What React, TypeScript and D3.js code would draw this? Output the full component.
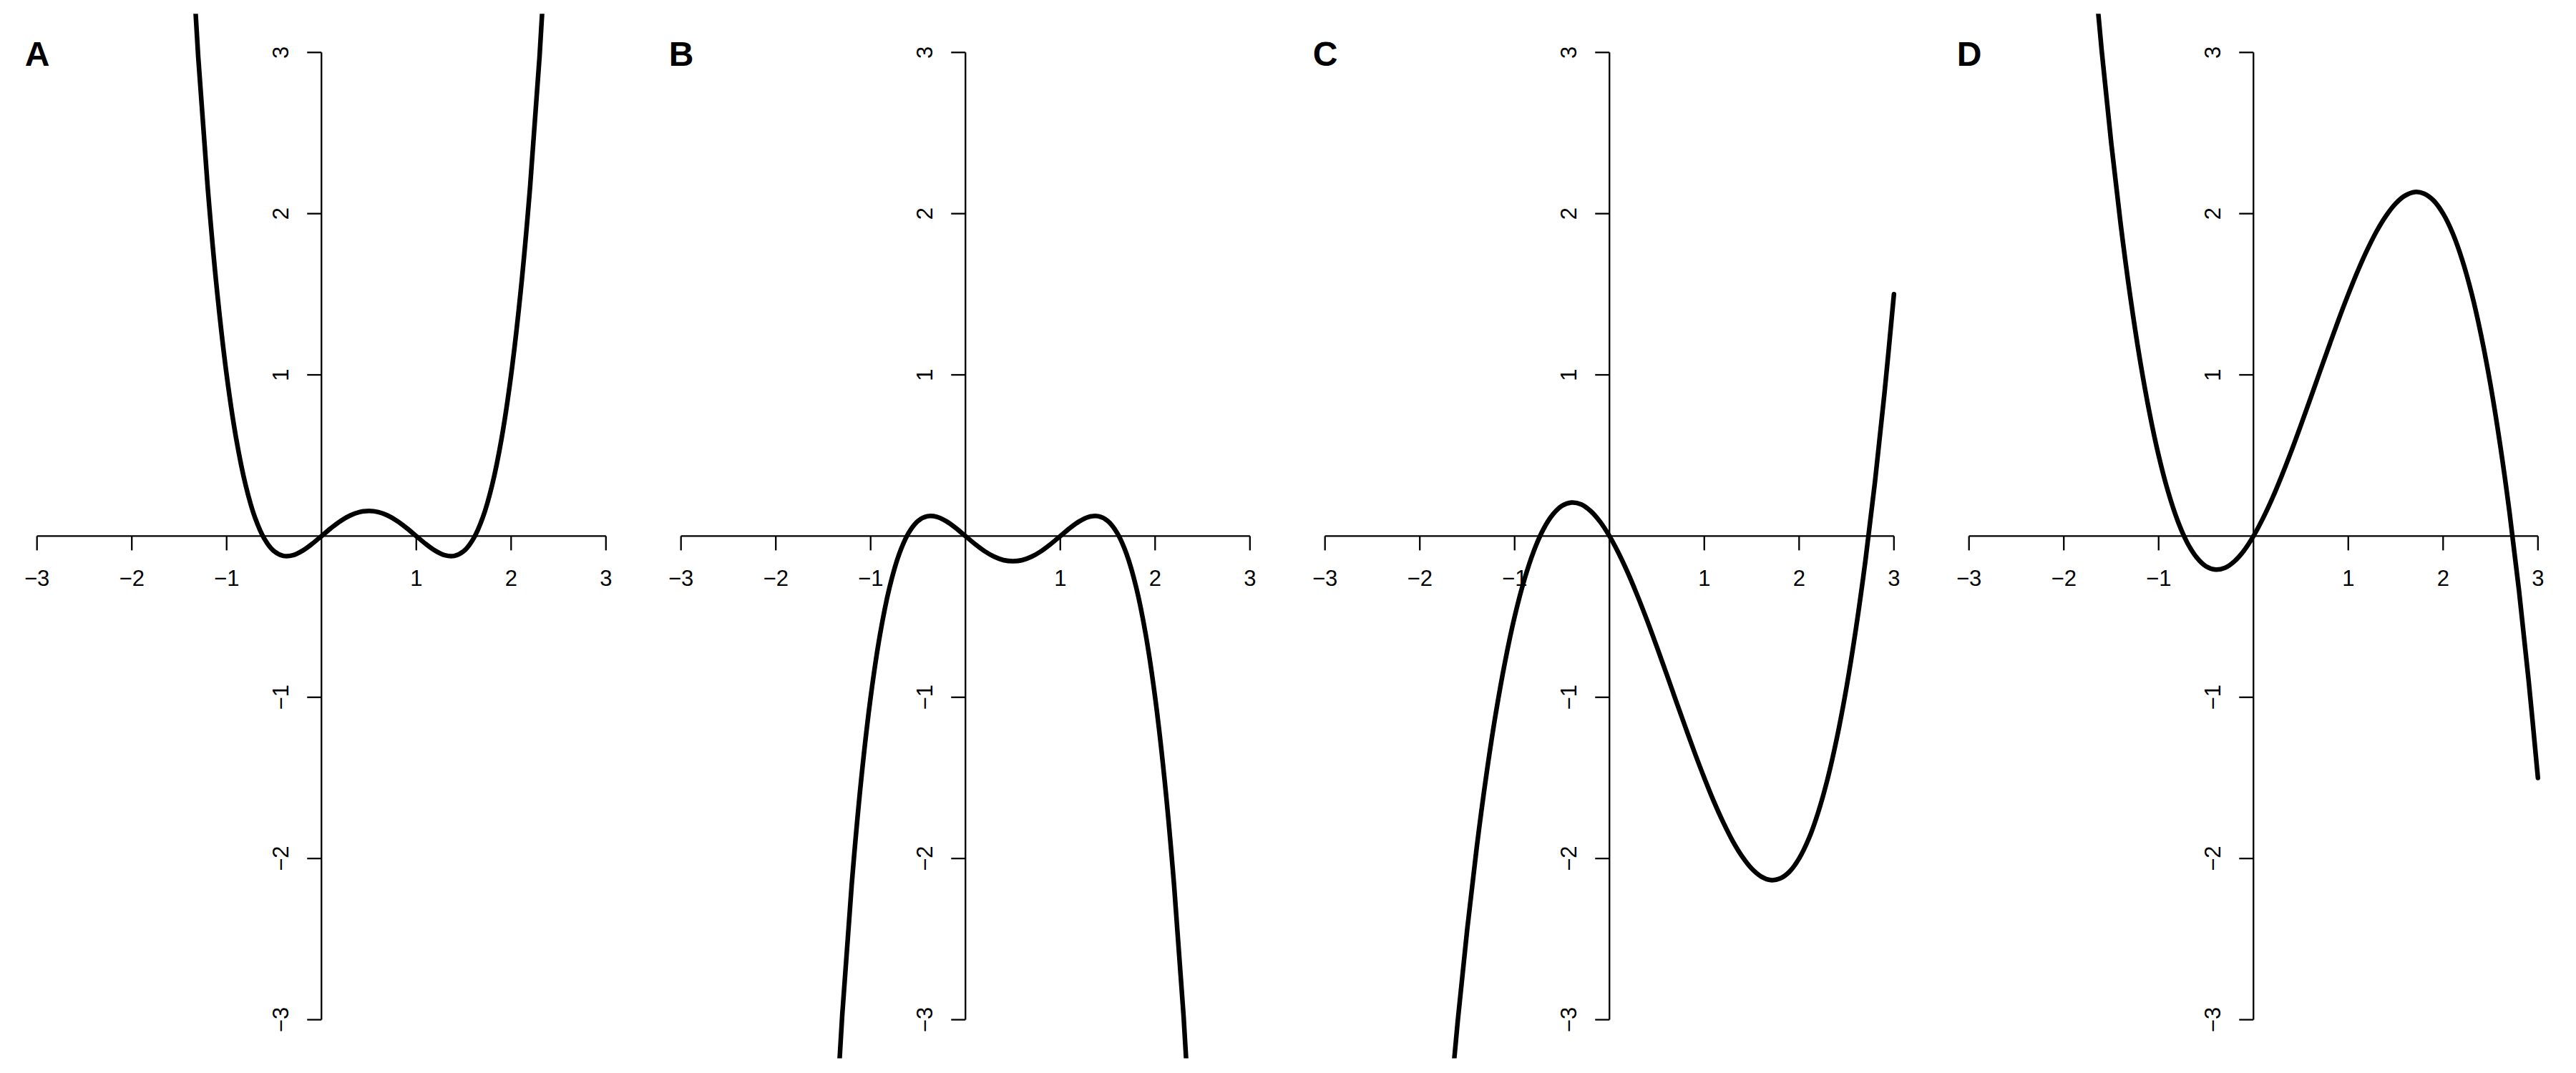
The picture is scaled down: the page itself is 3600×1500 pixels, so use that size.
import React from "react";
import * as d3 from "d3";

// ---------- data ----------
const panelLabels = ["A", "B", "C", "D"];
const xTicks = [-3, -2, -1, 1, 2, 3];
const yTicks = [-3, -2, -1, 1, 2, 3];

const xGridAB = [
  -1.5, -1.4, -1.3, -1.2, -1.1, -1.0, -0.9, -0.8, -0.7, -0.6, -0.5, -0.4, -0.3, -0.2, -0.1,
  0.0, 0.1, 0.2, 0.3, 0.4, 0.5, 0.6, 0.7, 0.8, 0.9, 1.0, 1.1, 1.2, 1.3, 1.4, 1.5, 1.6, 1.7,
  1.8, 1.9, 2.0, 2.1, 2.2, 2.3, 2.4, 2.5,
];
const valuesA = [
  5.156, 3.965, 2.975, 2.165, 1.513, 1.0, 0.607, 0.317, 0.113, -0.019, -0.094, -0.123, -0.119,
  -0.091, -0.049, 0, 0.049, 0.093, 0.127, 0.149, 0.156, 0.149, 0.127, 0.093, 0.049, 0, -0.049,
  -0.091, -0.119, -0.123, -0.094, -0.019, 0.113, 0.317, 0.607, 1.0, 1.513, 2.165, 2.975, 3.965,
  5.156,
];
const valuesB = [
  -5.156, -3.965, -2.975, -2.165, -1.513, -1.0, -0.607, -0.317, -0.113, 0.019, 0.094, 0.123,
  0.119, 0.091, 0.049, 0, -0.049, -0.093, -0.127, -0.149, -0.156, -0.149, -0.127, -0.093, -0.049,
  0, 0.049, 0.091, 0.119, 0.123, 0.094, 0.019, -0.113, -0.317, -0.607, -1.0, -1.513, -2.165,
  -2.975, -3.965, -5.156,
];

const xGridCD = [
  -1.8, -1.7, -1.6, -1.5, -1.4, -1.3, -1.2, -1.1, -1.0, -0.9, -0.8, -0.7, -0.6, -0.5, -0.4, -0.3,
  -0.2, -0.1, 0.0, 0.1, 0.2, 0.3, 0.4, 0.5, 0.6, 0.7, 0.8, 0.9, 1.0, 1.1, 1.2, 1.3, 1.4, 1.5, 1.6,
  1.7, 1.8, 1.9, 2.0, 2.1, 2.2, 2.3, 2.4, 2.5, 2.6, 2.7, 2.8, 2.9, 3.0,
];
const valuesD = [
  4.356, 3.647, 3.008, 2.438, 1.932, 1.489, 1.104, 0.776, 0.5, 0.275, 0.096, -0.039, -0.132,
  -0.188, -0.208, -0.197, -0.156, -0.09, 0, 0.11, 0.236, 0.377, 0.528, 0.688, 0.852, 1.019, 1.184,
  1.346, 1.5, 1.645, 1.776, 1.892, 1.988, 2.063, 2.112, 2.134, 2.124, 2.081, 2.0, 1.88, 1.716,
  1.507, 1.248, 0.938, 0.572, 0.149, -0.336, -0.885, -1.5,
];
const valuesC = [
  -4.356, -3.647, -3.008, -2.438, -1.932, -1.489, -1.104, -0.776, -0.5, -0.275, -0.096, 0.039,
  0.132, 0.188, 0.208, 0.197, 0.156, 0.09, 0, -0.11, -0.236, -0.377, -0.528, -0.688, -0.852,
  -1.019, -1.184, -1.346, -1.5, -1.645, -1.776, -1.892, -1.988, -2.063, -2.112, -2.134, -2.124,
  -2.081, -2.0, -1.88, -1.716, -1.507, -1.248, -0.938, -0.572, -0.149, 0.336, 0.885, 1.5,
];

const panelSeries = [
  { xs: xGridAB, ys: valuesA },
  { xs: xGridAB, ys: valuesB },
  { xs: xGridCD, ys: valuesC },
  { xs: xGridCD, ys: valuesD },
];

// ---------- layout ----------
const W = 3600;
const H = 1500;
const PANEL_W = 900;
const FONT = "'Liberation Sans', Arial, Helvetica, sans-serif";

function fmt(v: number) {
  return v < 0 ? "\u2212" + Math.abs(v) : String(v);
}

function Panel({ i }: { i: number }) {
  const x0 = i * PANEL_W;
  const xs = d3.scaleLinear().domain([-3, 3]).range([x0 + 51.7, x0 + 846.8]);
  const ys = d3.scaleLinear().domain([-3, 3]).range([1425.5, 73.3]);
  const { xs: xv, ys: yv } = panelSeries[i];
  const pts: [number, number][] = xv.map((x, k) => [x, yv[k]]);
  const line = d3
    .line<[number, number]>()
    .x((d) => xs(d[0]))
    .y((d) => ys(d[1]))
    .curve(d3.curveCatmullRom.alpha(0.5));
  const clipId = `clip-${i}`;
  const ox = xs(0);
  const oy = ys(0);
  const tick = 20;
  return (
    <g>
      <defs>
        <clipPath id={clipId}>
          <rect
            x={xs(-3.24)}
            y={ys(3.24)}
            width={xs(3.24) - xs(-3.24)}
            height={ys(-3.24) - ys(3.24)}
          />
        </clipPath>
      </defs>
      {/* x axis */}
      <line x1={xs(-3)} x2={xs(3)} y1={oy} y2={oy} stroke="#000" strokeWidth={2.3} />
      {xTicks.map((t) => (
        <g key={"xt" + t}>
          <line x1={xs(t)} x2={xs(t)} y1={oy} y2={oy + tick} stroke="#000" strokeWidth={2.3} />
          <text
            x={xs(t)}
            y={oy + 70}
            textAnchor="middle"
            fontFamily={FONT}
            fontSize={31}
            fill="#000"
          >
            {fmt(t)}
          </text>
        </g>
      ))}
      {/* y axis */}
      <line x1={ox} x2={ox} y1={ys(-3)} y2={ys(3)} stroke="#000" strokeWidth={2.3} />
      {yTicks.map((t) => (
        <g key={"yt" + t}>
          <line x1={ox - tick} x2={ox} y1={ys(t)} y2={ys(t)} stroke="#000" strokeWidth={2.3} />
          <text
            transform={`translate(${ox - 46.5},${ys(t)}) rotate(-90)`}
            textAnchor="middle"
            fontFamily={FONT}
            fontSize={31}
            fill="#000"
          >
            {fmt(t)}
          </text>
        </g>
      ))}
      {/* curve */}
      <path
        d={line(pts) || ""}
        fill="none"
        stroke="#000"
        strokeWidth={6.5}
        strokeLinecap="round"
        strokeLinejoin="round"
        clipPath={`url(#${clipId})`}
      />
      {/* panel label */}
      <text
        x={x0 + 52}
        y={92}
        textAnchor="middle"
        fontFamily={FONT}
        fontWeight="bold"
        fontSize={48}
        fill="#000"
      >
        {panelLabels[i]}
      </text>
    </g>
  );
}

export default function App() {
  return (
    <svg
      width={W}
      height={H}
      viewBox={`0 0 ${W} ${H}`}
      style={{ position: "absolute", left: 0, top: 0, background: "#fff" }}
    >
      <rect x={0} y={0} width={W} height={H} fill="#fff" />
      {panelLabels.map((_, i) => (
        <Panel key={i} i={i} />
      ))}
    </svg>
  );
}
